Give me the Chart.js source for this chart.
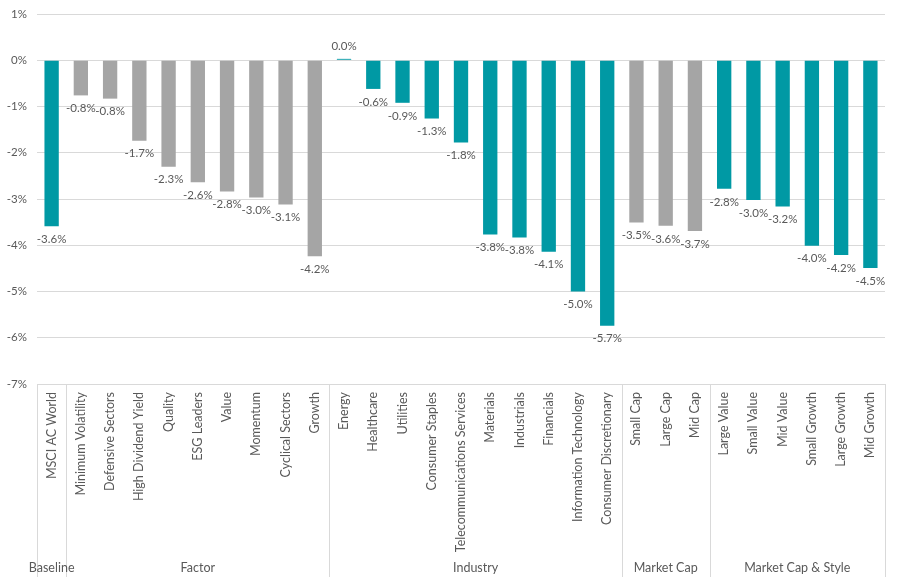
<!DOCTYPE html>
<html>
<head>
<meta charset="utf-8">
<script src="https://cdn.jsdelivr.net/npm/chart.js@4.4.1/dist/chart.umd.min.js"></script>
<style>
  html, body { margin: 0; padding: 0; background: #fff; }
  #wrap { width: 900px; height: 580px; }
</style>
</head>
<body>
<div id="wrap"><canvas id="chart" width="900" height="580"></canvas></div>
<script>
const categories = [
  "MSCI AC World",
  "Minimum Volatility", "Defensive Sectors", "High Dividend Yield", "Quality", "ESG Leaders",
  "Value", "Momentum", "Cyclical Sectors", "Growth",
  "Energy", "Healthcare", "Utilities", "Consumer Staples", "Telecommunications Services",
  "Materials", "Industrials", "Financials", "Information Technology", "Consumer Discretionary",
  "Small Cap", "Large Cap", "Mid Cap",
  "Large Value", "Small Value", "Mid Value", "Small Growth", "Large Growth", "Mid Growth"
];
const values = [
  -3.59,
  -0.76, -0.83, -1.74, -2.30, -2.64, -2.84, -2.97, -3.12, -4.24,
  0.03, -0.62, -0.92, -1.26, -1.78, -3.77, -3.83, -4.14, -5.00, -5.74,
  -3.51, -3.58, -3.69,
  -2.78, -3.02, -3.16, -4.01, -4.21, -4.49
];
const groupNames = ["Baseline", "Factor", "Industry", "Market Cap", "Market Cap & Style"];
const groupSizes = [1, 9, 10, 3, 6];
const yTicks = [1, 0, -1, -2, -3, -4, -5, -6, -7];

const TEAL = "#0099a4";
const GREY = "#a5a5a5";
const TEXT = "#595959";
const FONT = "Lato";
const groupColors = [TEAL, GREY, TEAL, GREY, TEAL];

// colour of each bar comes from its group
const barColors = [];
groupSizes.forEach((n, g) => {
  for (let i = 0; i < n; i++) barColors.push(groupColors[g]);
});

const valueLabels = {
  id: "valueLabels",
  afterDatasetsDraw(chart) {
    const ctx = chart.ctx;
    const meta = chart.getDatasetMeta(0);
    ctx.save();
    ctx.font = "11.5px " + FONT;
    ctx.fillStyle = TEXT;
    ctx.textAlign = "center";
    ctx.textBaseline = "middle";
    meta.data.forEach((bar, i) => {
      const v = values[i];
      const y = v < 0 ? bar.y + 13 : bar.y - 13;
      ctx.fillText(v.toFixed(1) + "%", bar.x, y);
    });
    ctx.restore();
  }
};

const groupAxis = {
  id: "groupAxis",
  afterDraw(chart) {
    const ctx = chart.ctx;
    const x = chart.scales.x;
    const area = chart.chartArea;
    const half = (x.getPixelForValue(1) - x.getPixelForValue(0)) / 2;
    const bottom = 577;
    ctx.save();
    ctx.strokeStyle = "#d9d9d9";
    ctx.lineWidth = 1;
    ctx.font = "12.5px " + FONT;
    ctx.fillStyle = TEXT;
    ctx.textAlign = "center";
    ctx.textBaseline = "middle";
    let start = 0;
    let left = x.getPixelForValue(0) - half;
    ctx.beginPath();
    ctx.moveTo(Math.round(left) + 0.5, area.bottom);
    ctx.lineTo(Math.round(left) + 0.5, bottom);
    ctx.stroke();
    groupSizes.forEach((n, g) => {
      const end = start + n - 1;
      const right = x.getPixelForValue(end) + half;
      ctx.beginPath();
      ctx.moveTo(Math.round(right) + 0.5, area.bottom);
      ctx.lineTo(Math.round(right) + 0.5, bottom);
      ctx.stroke();
      ctx.fillText(groupNames[g], (left + right) / 2, 568);
      left = right;
      start = end + 1;
    });
    ctx.restore();
  }
};

new Chart(document.getElementById("chart"), {
  type: "bar",
  data: {
    labels: categories,
    datasets: [
      {
        data: values,
        backgroundColor: barColors,
        barPercentage: 0.49,
        categoryPercentage: 1
      }
    ]
  },
  options: {
    responsive: false,
    animation: false,
    layout: { padding: { left: 0, right: 15, top: 14, bottom: 0 } },
    plugins: {
      legend: { display: false },
      tooltip: { enabled: false }
    },
    scales: {
      x: {
        grid: { display: false, drawTicks: false },
        border: { display: false },
        ticks: {
          autoSkip: false,
          minRotation: 90,
          maxRotation: 90,
          padding: 8,
          color: TEXT,
          font: { family: FONT, size: 12.5 }
        },
        afterFit(scale) { scale.height = 196; }
      },
      y: {
        min: -7,
        max: 1,
        afterBuildTicks(scale) {
          scale.ticks = yTicks.map(v => ({ value: v }));
        },
        grid: { color: "#d9d9d9", drawTicks: false },
        border: { display: false },
        ticks: {
          padding: 10,
          color: TEXT,
          font: { family: FONT, size: 11.5 },
          callback: v => v + "%"
        },
        afterFit(scale) {
          scale.width = 37;
          scale.paddingTop = 0;
          scale.paddingBottom = 0;
        }
      }
    }
  },
  plugins: [valueLabels, groupAxis]
});
</script>
</body>
</html>
